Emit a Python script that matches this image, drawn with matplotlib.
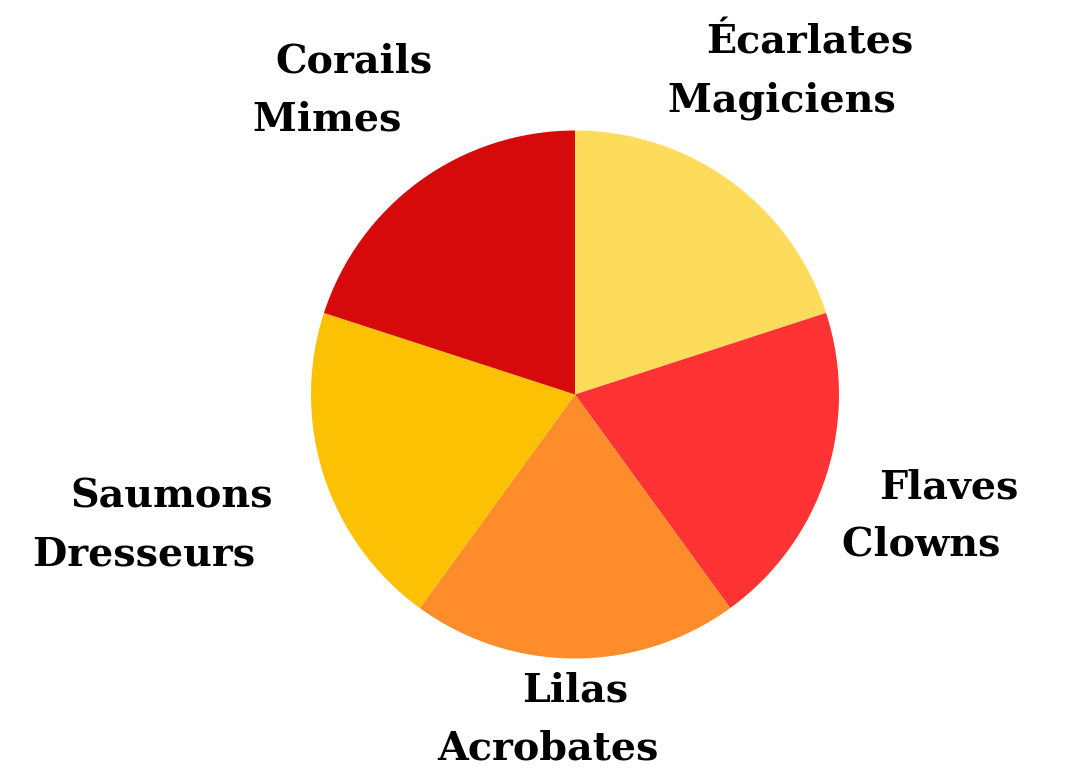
import numpy as np
import matplotlib
matplotlib.use("Agg")
import matplotlib.pyplot as plt

# slices, clockwise from 12 o'clock
groups = ["Écarlates\nMagiciens", "Flaves\nClowns", "Lilas\nAcrobates",
          "Saumons\nDresseurs", "Corails\nMimes"]
shares = [20, 20, 20, 20, 20]
colors = ["#FEDC5B", "#FF3333", "#FF8C2A", "#FBC102", "#D60A0A"]

W, H = 1067, 774
cx, cy, R = 575, 394.5, 264  # pixel layout of the pie

fig = plt.figure(figsize=(W / 100, H / 100), dpi=100)
ax = fig.add_axes([0, 0, 1, 1])

wedges, _ = ax.pie(shares, colors=colors, startangle=90, counterclock=False,
                   radius=1, center=(0, 0), frame=True,
                   wedgeprops=dict(linewidth=0))
ax.set_xlim(-cx / R, (W - cx) / R)
ax.set_ylim(-(H - cy) / R, cy / R)
ax.set_aspect("auto")
ax.axis("off")

fig.canvas.draw()
renderer = fig.canvas.get_renderer()
inv = ax.transData.inverted()

gap = 1.05
for w, lab in zip(wedges, groups):
    mid = np.deg2rad((w.theta1 + w.theta2) / 2)
    c, s = np.cos(mid), np.sin(mid)
    first, second = lab.split("\n")
    # trailing blanks stand in for the near-invisible white icons
    txt = ax.text(0, 0, first + "\n" + second + "    ", ha="center", va="center",
                  multialignment="center", fontsize=28.5, fontweight="heavy",
                  family="DejaVu Serif", linespacing=1.65, color="black")
    bb = txt.get_window_extent(renderer)
    p0 = inv.transform((bb.x0, bb.y0))
    p1 = inv.transform((bb.x1, bb.y1))
    hw, hh = (p1[0] - p0[0]) / 2, (p1[1] - p0[1]) / 2
    d = gap + hw * abs(c) + hh * abs(s)
    txt.set_position((d * c, d * s))

fig.savefig("out.png", dpi=100, facecolor="white")
